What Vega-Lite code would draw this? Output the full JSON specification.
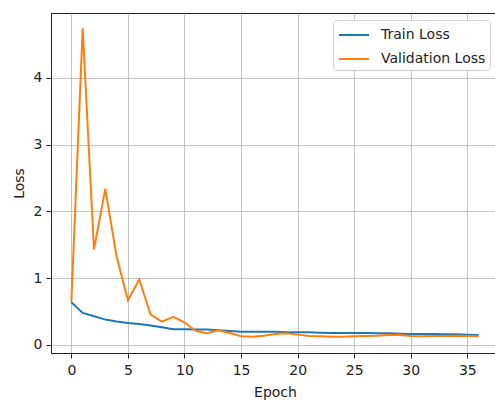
{
  "$schema": "https://vega.github.io/schema/vega-lite/v6.json",
  "width": 448,
  "height": 340,
  "autosize": {"type": "none"},
  "padding": {"left": 51, "top": 13, "right": 0, "bottom": 47},
  "background": "white",
  "config": {
    "font": "DejaVu Sans",
    "view": {"stroke": "#222", "strokeWidth": 1}
  },
  "datasets": {
    "train": [
      {"epoch": 0, "loss": 0.64}, {"epoch": 1, "loss": 0.48}, {"epoch": 2, "loss": 0.43}, {"epoch": 3, "loss": 0.38},
      {"epoch": 4, "loss": 0.35}, {"epoch": 5, "loss": 0.33}, {"epoch": 6, "loss": 0.315}, {"epoch": 7, "loss": 0.29},
      {"epoch": 8, "loss": 0.265}, {"epoch": 9, "loss": 0.235}, {"epoch": 10, "loss": 0.235}, {"epoch": 11, "loss": 0.23},
      {"epoch": 12, "loss": 0.23}, {"epoch": 13, "loss": 0.22}, {"epoch": 14, "loss": 0.21}, {"epoch": 15, "loss": 0.2},
      {"epoch": 16, "loss": 0.2}, {"epoch": 17, "loss": 0.2}, {"epoch": 18, "loss": 0.2}, {"epoch": 19, "loss": 0.19},
      {"epoch": 20, "loss": 0.19}, {"epoch": 21, "loss": 0.19}, {"epoch": 22, "loss": 0.185}, {"epoch": 23, "loss": 0.18},
      {"epoch": 24, "loss": 0.18}, {"epoch": 25, "loss": 0.18}, {"epoch": 26, "loss": 0.18}, {"epoch": 27, "loss": 0.175},
      {"epoch": 28, "loss": 0.175}, {"epoch": 29, "loss": 0.17}, {"epoch": 30, "loss": 0.165}, {"epoch": 31, "loss": 0.165},
      {"epoch": 32, "loss": 0.165}, {"epoch": 33, "loss": 0.16}, {"epoch": 34, "loss": 0.16}, {"epoch": 35, "loss": 0.155},
      {"epoch": 36, "loss": 0.15}
    ],
    "val": [
      {"epoch": 0, "loss": 0.64}, {"epoch": 1, "loss": 4.74}, {"epoch": 2, "loss": 1.43}, {"epoch": 3, "loss": 2.34},
      {"epoch": 4, "loss": 1.32}, {"epoch": 5, "loss": 0.67}, {"epoch": 6, "loss": 0.98}, {"epoch": 7, "loss": 0.46},
      {"epoch": 8, "loss": 0.35}, {"epoch": 9, "loss": 0.42}, {"epoch": 10, "loss": 0.34}, {"epoch": 11, "loss": 0.21},
      {"epoch": 12, "loss": 0.175}, {"epoch": 13, "loss": 0.22}, {"epoch": 14, "loss": 0.18}, {"epoch": 15, "loss": 0.13},
      {"epoch": 16, "loss": 0.125}, {"epoch": 17, "loss": 0.14}, {"epoch": 18, "loss": 0.165}, {"epoch": 19, "loss": 0.175},
      {"epoch": 20, "loss": 0.155}, {"epoch": 21, "loss": 0.135}, {"epoch": 22, "loss": 0.13}, {"epoch": 23, "loss": 0.125},
      {"epoch": 24, "loss": 0.125}, {"epoch": 25, "loss": 0.13}, {"epoch": 26, "loss": 0.135}, {"epoch": 27, "loss": 0.14},
      {"epoch": 28, "loss": 0.15}, {"epoch": 29, "loss": 0.15}, {"epoch": 30, "loss": 0.135}, {"epoch": 31, "loss": 0.13},
      {"epoch": 32, "loss": 0.135}, {"epoch": 33, "loss": 0.135}, {"epoch": 34, "loss": 0.14}, {"epoch": 35, "loss": 0.135},
      {"epoch": 36, "loss": 0.13}
    ]
  },
  "layer": [
    {
      "data": {"name": "train"},
      "transform": [{"calculate": "'Train Loss'", "as": "series"}],
      "mark": {"type": "line", "strokeWidth": 2, "clip": true},
      "encoding": {
        "x": {"field": "epoch", "type": "quantitative"},
        "y": {"field": "loss", "type": "quantitative"},
        "color": {"field": "series", "type": "nominal"}
      }
    },
    {
      "data": {"name": "val"},
      "transform": [{"calculate": "'Validation Loss'", "as": "series"}],
      "mark": {"type": "line", "strokeWidth": 2, "clip": true},
      "encoding": {
        "x": {"field": "epoch", "type": "quantitative"},
        "y": {"field": "loss", "type": "quantitative"},
        "color": {"field": "series", "type": "nominal"}
      }
    }
  ],
  "encoding": {
    "x": {
      "field": "epoch", "type": "quantitative",
      "scale": {"domain": [-1.8, 37.8], "nice": false, "zero": false},
      "axis": {
        "title": "Epoch", "values": [0, 5, 10, 15, 20, 25, 30, 35],
        "grid": true, "gridColor": "#b0b0b0", "gridOpacity": 0.75, "gridWidth": 1,
        "domainColor": "#222", "tickColor": "#222", "tickSize": 5, "labelPadding": 5,
        "labelFontSize": 14, "labelColor": "#222", "titleFontSize": 14, "titleFontWeight": "normal",
        "titleColor": "#222", "titlePadding": 8
      }
    },
    "y": {
      "field": "loss", "type": "quantitative",
      "scale": {"domain": [-0.12, 4.97], "nice": false, "zero": false},
      "axis": {
        "title": "Loss", "values": [0, 1, 2, 3, 4],
        "grid": true, "gridColor": "#b0b0b0", "gridOpacity": 0.75, "gridWidth": 1,
        "domainColor": "#222", "tickColor": "#222", "tickSize": 5, "labelPadding": 4,
        "labelFontSize": 14, "labelColor": "#222", "titleFontSize": 14, "titleFontWeight": "normal",
        "titleColor": "#222", "titlePadding": 7
      }
    },
    "color": {
      "field": "series", "type": "nominal",
      "scale": {"domain": ["Train Loss", "Validation Loss"], "range": ["#1f77b4", "#ff7f0e"]},
      "legend": {
        "title": null, "orient": "none", "legendX": 282, "legendY": 7,
        "symbolType": "M-0.9,0H2.1", "symbolSize": 400, "symbolStrokeWidth": 2,
        "labelFontSize": 14, "labelColor": "#222", "labelOffset": 22,
        "fillColor": "white", "strokeColor": "#d0d0d0", "cornerRadius": 3,
        "padding": 4, "rowPadding": 6, "offset": 0
      }
    }
  }
}
